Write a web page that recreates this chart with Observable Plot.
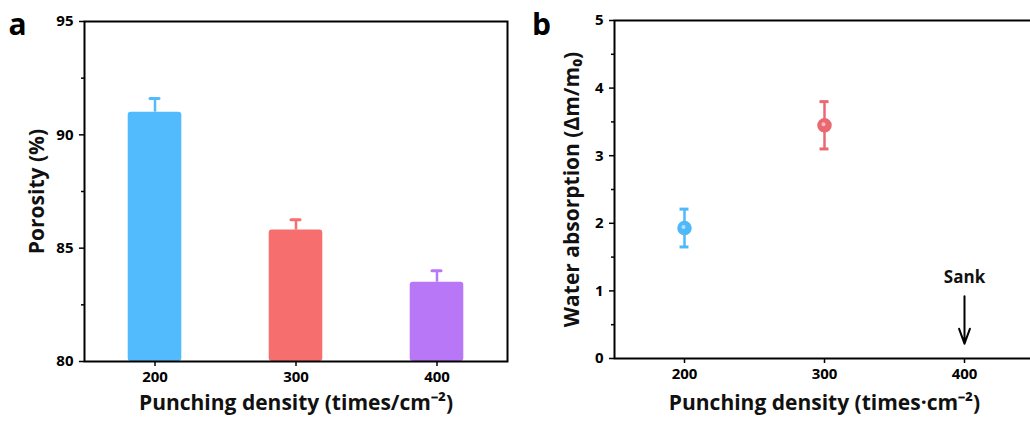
<!DOCTYPE html>
<html>
<head>
<meta charset="utf-8">
<script src="https://cdn.jsdelivr.net/npm/d3@7"></script>
<script src="https://cdn.jsdelivr.net/npm/@observablehq/plot@0.6"></script>
<style>
  html, body { margin: 0; padding: 0; background: #fff; overflow: hidden; }
  #wrap { position: relative; width: 1030px; height: 421px; overflow: hidden; }
  #wrap svg { position: absolute; top: 0; }
</style>
</head>
<body>
<div id="wrap"></div>
<script>
// ---- data ----
const densities = [200, 300, 400];
const porosity = [91.0, 85.8, 83.5];
const porosityErr = [0.6, 0.45, 0.5];
const absorptionX = [200, 300];
const absorption = [1.93, 3.45];
const absorptionErr = [0.28, 0.35];
const barColors = ["#51bbfd", "#f76e6e", "#b877f6"];
const dotColors = ["#4fb8f8", "#ea6870"];
const porosityTicks = [80, 85, 90, 95];
const porosityMinor = [82.5, 87.5, 92.5];
const absorptionTicks = [0, 1, 2, 3, 4, 5];
const absorptionMinor = [0.5, 1.5, 2.5, 3.5, 4.5];
const sank = {x: 400, label: "Sank", labelY: 1.2, from: 0.92, to: 0.22};

const FONT = "'Open Sans', sans-serif";
const rowsA = densities.map((x, i) => ({x, v: porosity[i], e: porosityErr[i], c: barColors[i]}));
const rowsB = absorptionX.map((x, i) => ({x, v: absorption[i], e: absorptionErr[i], c: dotColors[i]}));

const wrap = document.getElementById("wrap");

// ---- panel a ----
const a = Plot.plot({
  width: 520, height: 421,
  marginLeft: 84, marginRight: 13, marginTop: 21, marginBottom: 60,
  style: {fontFamily: FONT, background: "white", overflow: "visible"},
  x: {domain: [150, 450]},
  y: {domain: [80, 95]},
  color: {type: "identity"},
  marks: [
    Plot.rectY(rowsA, {x1: d => d.x - 19, x2: d => d.x + 19, y1: () => 80, y2: "v", fill: "c", rx: 3}),
    Plot.ruleX(rowsA, {x: "x", y1: "v", y2: d => d.v + d.e, stroke: "c", strokeWidth: 2.5}),
    Plot.ruleY(rowsA, {y: d => d.v + d.e, x1: d => d.x - 3.2, x2: d => d.x + 3.2, stroke: "c", strokeWidth: 3, strokeLinecap: "round"}),
    Plot.axisX(densities, {tickSize: 5, tickPadding: 5, strokeWidth: 1.5, fontSize: 15, fontWeight: "bold", label: null, tickFormat: d => String(d)}),
    Plot.axisY(porosityTicks, {tickSize: 5, tickPadding: 6, strokeWidth: 1.5, fontSize: 15, fontWeight: "bold", label: null, tickFormat: d => String(d)}),
    Plot.axisY(porosityMinor, {tickSize: 3, strokeWidth: 1.5, tickFormat: () => "", label: null}),
    Plot.frame({stroke: "black", strokeWidth: 2}),
    Plot.text(["Porosity (%)"], {frameAnchor: "left", textAnchor: "middle", rotate: -90, dx: -47, fontSize: 21, fontWeight: "bold", fill: "#111"}),
    Plot.text(["Punching density (times/cm⁻²)"], {frameAnchor: "bottom", dy: 42, lineAnchor: "middle", fontSize: 21, fontWeight: "bold", fill: "#111"}),
    Plot.text(["a"], {frameAnchor: "top-left", textAnchor: "middle", dx: -67, dy: 4, lineAnchor: "middle", fontSize: 30, fontWeight: "bold", fill: "#000"})
  ]
});
a.style.left = "0px";
wrap.appendChild(a);

// ---- panel b ----
const b = Plot.plot({
  width: 520, height: 421,
  marginLeft: 94, marginRight: 6, marginTop: 20, marginBottom: 63,
  style: {fontFamily: FONT, background: "white", overflow: "visible"},
  x: {domain: [150, 450]},
  y: {domain: [0, 5]},
  color: {type: "identity"},
  marks: [
    Plot.ruleX(rowsB, {x: "x", y1: d => d.v - d.e, y2: d => d.v + d.e, stroke: "c", strokeWidth: 2.5}),
    Plot.ruleY(rowsB, {y: d => d.v + d.e, x1: d => d.x - 3.2, x2: d => d.x + 3.2, stroke: "c", strokeWidth: 3}),
    Plot.ruleY(rowsB, {y: d => d.v - d.e, x1: d => d.x - 3.2, x2: d => d.x + 3.2, stroke: "c", strokeWidth: 3}),
    Plot.dot(rowsB, {x: "x", y: "v", r: 6.5, fill: "c", stroke: "c"}),
    Plot.dot(rowsB, {x: "x", y: "v", r: 2, fill: "white", fillOpacity: 0.55, dx: -1, dy: -1}),
    Plot.arrow([sank], {x1: "x", x2: "x", y1: "from", y2: "to", stroke: "black", strokeWidth: 2, headLength: 12, headAngle: 40}),
    Plot.text([sank], {x: "x", y: "labelY", text: "label", fontSize: 17, fontWeight: "bold", fill: "#111"}),
    Plot.axisX(densities, {tickSize: 5, tickPadding: 5, strokeWidth: 1.5, fontSize: 15, fontWeight: "bold", label: null, tickFormat: d => String(d)}),
    Plot.axisY(absorptionTicks, {tickSize: 5, tickPadding: 6, strokeWidth: 1.5, fontSize: 15, fontWeight: "bold", label: null, tickFormat: d => String(d)}),
    Plot.axisY(absorptionMinor, {tickSize: 3, strokeWidth: 1.5, tickFormat: () => "", label: null}),
    Plot.frame({stroke: "black", strokeWidth: 2}),
    Plot.text(["Water absorption (Δm/m₀)"], {frameAnchor: "left", textAnchor: "middle", rotate: -90, dx: -42, fontSize: 21, fontWeight: "bold", fill: "#111"}),
    Plot.text(["Punching density (times·cm⁻²)"], {frameAnchor: "bottom", dy: 45, lineAnchor: "middle", fontSize: 21, fontWeight: "bold", fill: "#111"}),
    Plot.text(["b"], {frameAnchor: "top-left", textAnchor: "middle", dx: -73, dy: 5, lineAnchor: "middle", fontSize: 30, fontWeight: "bold", fill: "#000"})
  ]
});
b.style.left = "520px";
wrap.appendChild(b);
</script>
</body>
</html>
